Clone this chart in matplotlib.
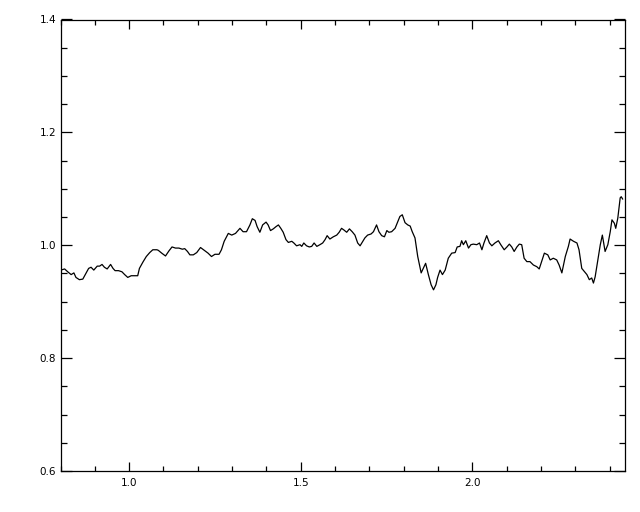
import numpy as np
import matplotlib
matplotlib.use("Agg")
import matplotlib.pyplot as plt
from matplotlib.ticker import MultipleLocator

# Values (x, ratio)
xVals = [0.801, 0.812, 0.821, 0.831, 0.839, 0.845, 0.855, 0.865, 0.875, 0.882,
         0.889, 0.897, 0.907, 0.914, 0.921, 0.928, 0.936, 0.946, 0.953, 0.959,
         0.969, 0.979, 0.987, 0.996, 1.006, 1.016, 1.025, 1.030, 1.040, 1.050,
         1.060, 1.069, 1.081, 1.085, 1.095, 1.106, 1.116, 1.125, 1.135, 1.145,
         1.155, 1.162, 1.170, 1.177, 1.187, 1.197, 1.208, 1.219, 1.230, 1.240,
         1.250, 1.262, 1.269, 1.277, 1.289, 1.299, 1.310, 1.323, 1.332, 1.342,
         1.352, 1.359, 1.367, 1.373, 1.381, 1.389, 1.399, 1.405, 1.412, 1.420,
         1.428, 1.435, 1.442, 1.449, 1.457, 1.464, 1.474, 1.480, 1.488, 1.498,
         1.503, 1.509, 1.517, 1.525, 1.532, 1.539, 1.547, 1.556, 1.564, 1.571,
         1.577, 1.585, 1.595, 1.605, 1.612, 1.619, 1.626, 1.634, 1.642, 1.650,
         1.658, 1.666, 1.673, 1.679, 1.687, 1.695, 1.705, 1.712, 1.721, 1.728,
         1.736, 1.744, 1.751, 1.757, 1.765, 1.775, 1.783, 1.789, 1.796, 1.804,
         1.812, 1.819, 1.825, 1.833, 1.841, 1.851, 1.857, 1.864, 1.872, 1.880,
         1.887, 1.894, 1.899, 1.906, 1.913, 1.921, 1.930, 1.940, 1.950, 1.956,
         1.964, 1.969, 1.974, 1.981, 1.989, 1.996, 2.003, 2.013, 2.021, 2.028,
         2.034, 2.042, 2.050, 2.057, 2.066, 2.076, 2.083, 2.093, 2.101, 2.108,
         2.115, 2.122, 2.130, 2.137, 2.144, 2.151, 2.159, 2.168, 2.178, 2.188,
         2.195, 2.201, 2.210, 2.220, 2.227, 2.236, 2.246, 2.253, 2.261, 2.271,
         2.280, 2.285, 2.295, 2.305, 2.311, 2.319, 2.327, 2.334, 2.341, 2.348,
         2.353, 2.358, 2.366, 2.373, 2.379, 2.387, 2.395, 2.402, 2.407, 2.414,
         2.418, 2.424, 2.428, 2.431, 2.434, 2.438]
yVals = [0.956, 0.958, 0.953, 0.948, 0.951, 0.943, 0.939, 0.940, 0.951, 0.959,
         0.961, 0.956, 0.963, 0.963, 0.966, 0.961, 0.958, 0.966, 0.959, 0.955,
         0.955, 0.953, 0.948, 0.943, 0.946, 0.946, 0.946, 0.959, 0.970, 0.980,
         0.987, 0.992, 0.992, 0.991, 0.986, 0.981, 0.990, 0.997, 0.995, 0.995,
         0.993, 0.994, 0.989, 0.983, 0.983, 0.987, 0.996, 0.991, 0.986, 0.980,
         0.984, 0.984, 0.992, 1.007, 1.021, 1.018, 1.021, 1.030, 1.024, 1.024,
         1.036, 1.047, 1.044, 1.033, 1.023, 1.036, 1.041, 1.036, 1.026, 1.029,
         1.033, 1.036, 1.030, 1.023, 1.010, 1.005, 1.007, 1.004, 0.999, 1.001,
         0.998, 1.004, 0.999, 0.997, 0.998, 1.004, 0.998, 1.001, 1.004, 1.010,
         1.017, 1.011, 1.015, 1.018, 1.023, 1.030, 1.027, 1.023, 1.029, 1.024,
         1.018, 1.004, 0.999, 1.005, 1.013, 1.018, 1.020, 1.024, 1.036, 1.024,
         1.017, 1.015, 1.026, 1.023, 1.024, 1.030, 1.042, 1.051, 1.054, 1.040,
         1.036, 1.034, 1.024, 1.013, 0.980, 0.951, 0.959, 0.968, 0.948, 0.930,
         0.921, 0.930, 0.943, 0.956, 0.948, 0.956, 0.977, 0.986, 0.987, 0.997,
         0.998, 1.008, 1.001, 1.008, 0.995, 1.001, 1.002, 1.001, 1.004, 0.992,
         1.004, 1.017, 1.004, 0.999, 1.004, 1.008, 1.001, 0.992, 0.997, 1.002,
         0.997, 0.989, 0.997, 1.002, 1.001, 0.977, 0.971, 0.971, 0.965, 0.962,
         0.958, 0.969, 0.986, 0.983, 0.974, 0.977, 0.974, 0.965, 0.951, 0.980,
         0.998, 1.011, 1.007, 1.004, 0.992, 0.959, 0.953, 0.948, 0.939, 0.942,
         0.933, 0.944, 0.974, 1.001, 1.018, 0.989, 1.001, 1.024, 1.045, 1.039,
         1.030, 1.048, 1.069, 1.084, 1.086, 1.082]

xMin, xMax = 0.8, 2.445
yMin, yMax = 0.6, 1.4

fig = plt.figure(figsize=(6.4, 5.12), dpi=100)
ax = fig.add_axes([60.5 / 640, 41 / 512, 564.5 / 640, 451.5 / 512])

ax.plot(xVals, yVals, color='black', linewidth=0.9)

ax.set_xlim(xMin, xMax)
ax.set_ylim(yMin, yMax)

ax.xaxis.set_major_locator(MultipleLocator(0.5))
ax.xaxis.set_minor_locator(MultipleLocator(0.1))
ax.yaxis.set_major_locator(MultipleLocator(0.2))
ax.yaxis.set_minor_locator(MultipleLocator(0.05))

ax.tick_params(axis='both', which='both', direction='in', top=True, right=True,
               colors='black', width=0.9, labelsize=7.5)
ax.tick_params(axis='x', which='major', length=6.5, pad=5)
ax.tick_params(axis='x', which='minor', length=3.3)
ax.tick_params(axis='y', which='major', length=8, pad=3)
ax.tick_params(axis='y', which='minor', length=4)
ax.xaxis.set_major_formatter(plt.FormatStrFormatter('%.1f'))
ax.yaxis.set_major_formatter(plt.FormatStrFormatter('%.1f'))

for s in ax.spines.values():
    s.set_linewidth(0.9)

fig.savefig('out.png', dpi=100)
